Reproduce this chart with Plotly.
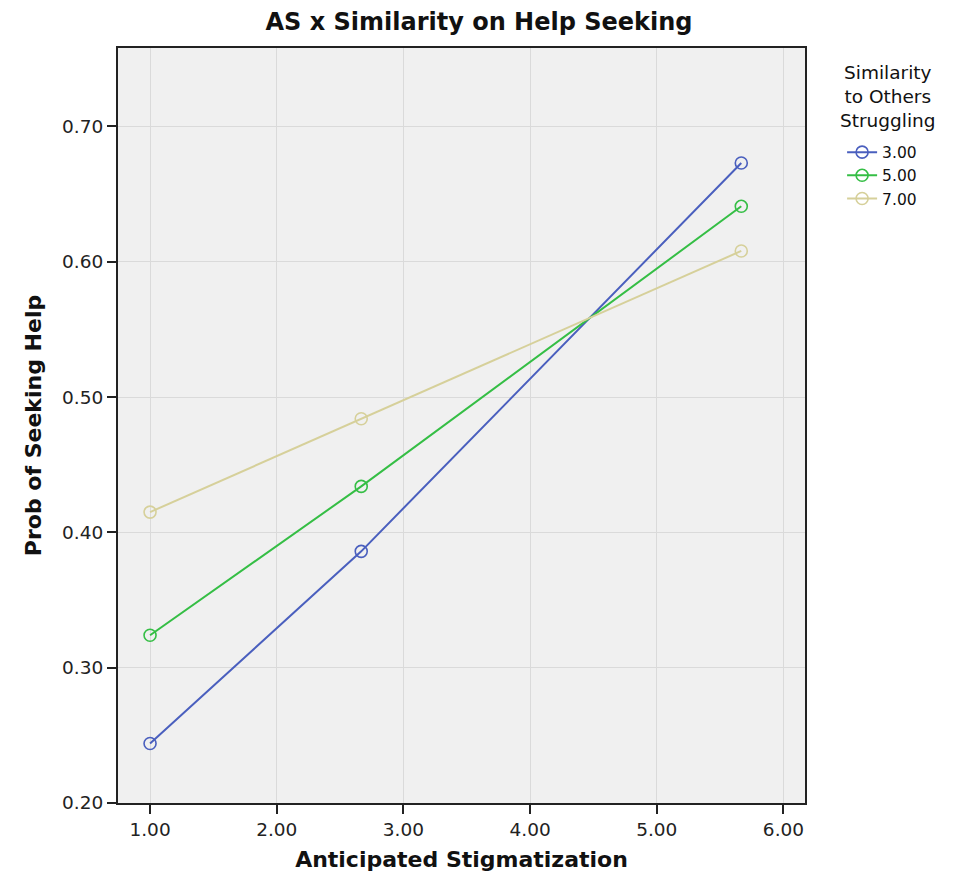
import plotly.graph_objects as go

x_vals = [1.0, 2.667, 5.667]
series_names = ["3.00", "5.00", "7.00"]
y_3 = [0.244, 0.386, 0.673]
y_5 = [0.324, 0.434, 0.641]
y_7 = [0.415, 0.484, 0.608]
colors = ["#4A5FBE", "#35BE45", "#D6D09A"]

x_ticks = [1, 2, 3, 4, 5, 6]
x_ticklabels = ["1.00", "2.00", "3.00", "4.00", "5.00", "6.00"]
y_ticks = [0.2, 0.3, 0.4, 0.5, 0.6, 0.7]
y_ticklabels = ["0.20", "0.30", "0.40", "0.50", "0.60", "0.70"]

fig = go.Figure()
for name, ys, c in zip(series_names, [y_3, y_5, y_7], colors):
    fig.add_trace(go.Scatter(
        x=x_vals, y=ys, name=name, mode="lines+markers",
        line=dict(color=c, width=2),
        marker=dict(symbol="circle-open", size=12, color=c, line=dict(width=1.6, color=c)),
    ))

font_family = "DejaVu Sans"
fig.update_layout(
    width=942, height=864,
    margin=dict(l=110, r=145, t=40, b=69),
    paper_bgcolor="white", plot_bgcolor="#F0F0F0",
    title=dict(text="<b>AS x Similarity on Help Seeking</b>", x=0.5, xanchor="center",
               y=0.984, yanchor="middle", font=dict(family=font_family, size=24, color="#111")),
    font=dict(family=font_family, color="#111"),
    showlegend=True,
    legend=dict(x=1.054, xanchor="left", y=0.884, yanchor="top",
                font=dict(size=15.5, family=font_family), bgcolor="rgba(0,0,0,0)",
                tracegroupgap=0, itemwidth=30),
    annotations=[dict(text="Similarity<br>to Others<br>Struggling", xref="paper", yref="paper",
                      x=1.121, y=0.984, xanchor="center", yanchor="top", showarrow=False,
                      align="center", font=dict(size=18.5, family=font_family, color="#111"))],
)
fig.update_xaxes(
    range=[0.747, 6.17], tickvals=x_ticks, ticktext=x_ticklabels,
    showgrid=True, gridcolor="#DADADA", gridwidth=1,
    showline=True, linecolor="#222", linewidth=2, mirror=True,
    ticks="outside", ticklen=9, tickwidth=2, tickcolor="#222",
    tickfont=dict(size=18.5, family=font_family, color="#222"), zeroline=False,
    automargin=False,
    title=dict(text="<b>Anticipated Stigmatization</b>", font=dict(size=22, family=font_family, color="#111"), standoff=17),
)
fig.update_yaxes(
    range=[0.2, 0.758], tickvals=y_ticks, ticktext=y_ticklabels,
    showgrid=True, gridcolor="#DADADA", gridwidth=1,
    showline=True, linecolor="#222", linewidth=2, mirror=True,
    ticks="outside", ticklen=9, tickwidth=2, tickcolor="#222",
    tickfont=dict(size=18.5, family=font_family, color="#222"), zeroline=False,
    automargin=False,
    title=dict(text="<b>Prob of Seeking Help</b>", font=dict(size=22, family=font_family, color="#111"), standoff=14),
)
fig.write_html("out.html")
